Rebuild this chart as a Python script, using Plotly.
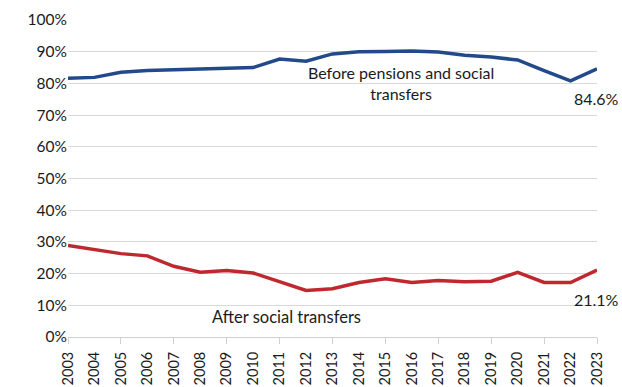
import plotly.graph_objects as go

years = [str(y) for y in range(2003, 2024)]
before_transfers = [81.6, 81.9, 83.5, 84.1, 84.3, 84.5, 84.7, 85.0, 87.7, 87.0,
                    89.3, 90.0, 90.1, 90.2, 89.9, 88.9, 88.3, 87.4, 84.0, 80.8, 84.6]
after_transfers = [28.9, 27.7, 26.3, 25.6, 22.3, 20.4, 21.0, 20.2, 17.5, 14.7,
                   15.2, 17.2, 18.4, 17.2, 17.8, 17.4, 17.6, 20.4, 17.2, 17.2, 21.1]
y_ticks = list(range(0, 101, 10))
y_tick_text = [f"{v}%" for v in y_ticks]

BLUE = "#22498a"
RED = "#c0282f"
AXIS_GREY = "#d0d0d0"
FONT = "Lato, Open Sans, sans-serif"
n = len(years)
last = n - 1

fig = go.Figure()
fig.add_trace(go.Scatter(x=years, y=before_transfers, mode="lines",
                         line=dict(color=BLUE, width=3.5), hoverinfo="skip"))
fig.add_trace(go.Scatter(x=years, y=after_transfers, mode="lines",
                         line=dict(color=RED, width=3.5), hoverinfo="skip"))
# invisible carrier for the tick-mark axis (marks every second year)
fig.add_trace(go.Scatter(x=years, y=after_transfers, mode="lines", xaxis="x2",
                         line=dict(width=0), opacity=0, hoverinfo="skip"))

fig.update_layout(
    width=622, height=387,
    margin=dict(l=68, r=25, t=20, b=50),
    plot_bgcolor="white", paper_bgcolor="white",
    showlegend=False,
    font=dict(family=FONT, size=15, color="#1a1a1a"),
    xaxis=dict(
        type="category", tickangle=-90, showgrid=False,
        showline=True, linecolor=AXIS_GREY, linewidth=1,
        ticks="outside", ticklen=8, tickcolor="rgba(0,0,0,0)",
        tickvals=years, ticktext=years,
        range=[0, last], automargin=False,
        tickfont=dict(size=14.5),
    ),
    xaxis2=dict(
        type="category", overlaying="x", side="bottom", anchor="y",
        range=[0, last], showgrid=False, showline=False,
        ticks="outside", ticklen=6, tickcolor=AXIS_GREY,
        tickvals=years[::2], ticktext=[""] * len(years[::2]),
        automargin=False,
    ),
    yaxis=dict(
        range=[0, 100], tickvals=y_ticks, ticktext=y_tick_text,
        showgrid=True, gridcolor="#d9d9d9", gridwidth=1,
        zeroline=False, ticks="", tickfont=dict(size=15.5), automargin=False,
    ),
)

# Series labels and end-point values
fig.add_annotation(x=12.6, y=before_transfers[12], xref="x", yref="y",
                   text="Before pensions and social<br>transfers", showarrow=False,
                   yshift=-32, font=dict(size=16), align="center")
fig.add_annotation(x=last, y=before_transfers[-1], xref="x", yref="y",
                   text=f"{before_transfers[-1]:.1f}%",
                   showarrow=False, xanchor="right", xshift=24, yshift=-30,
                   font=dict(size=16))
fig.add_annotation(x=8.27, y=after_transfers[9], xref="x", yref="y",
                   text="After social transfers", showarrow=False,
                   yshift=-27, font=dict(size=16.5))
fig.add_annotation(x=last, y=after_transfers[-1], xref="x", yref="y",
                   text=f"{after_transfers[-1]:.1f}%",
                   showarrow=False, xanchor="right", xshift=24, yshift=-29,
                   font=dict(size=16))

fig.write_html("out.html")
